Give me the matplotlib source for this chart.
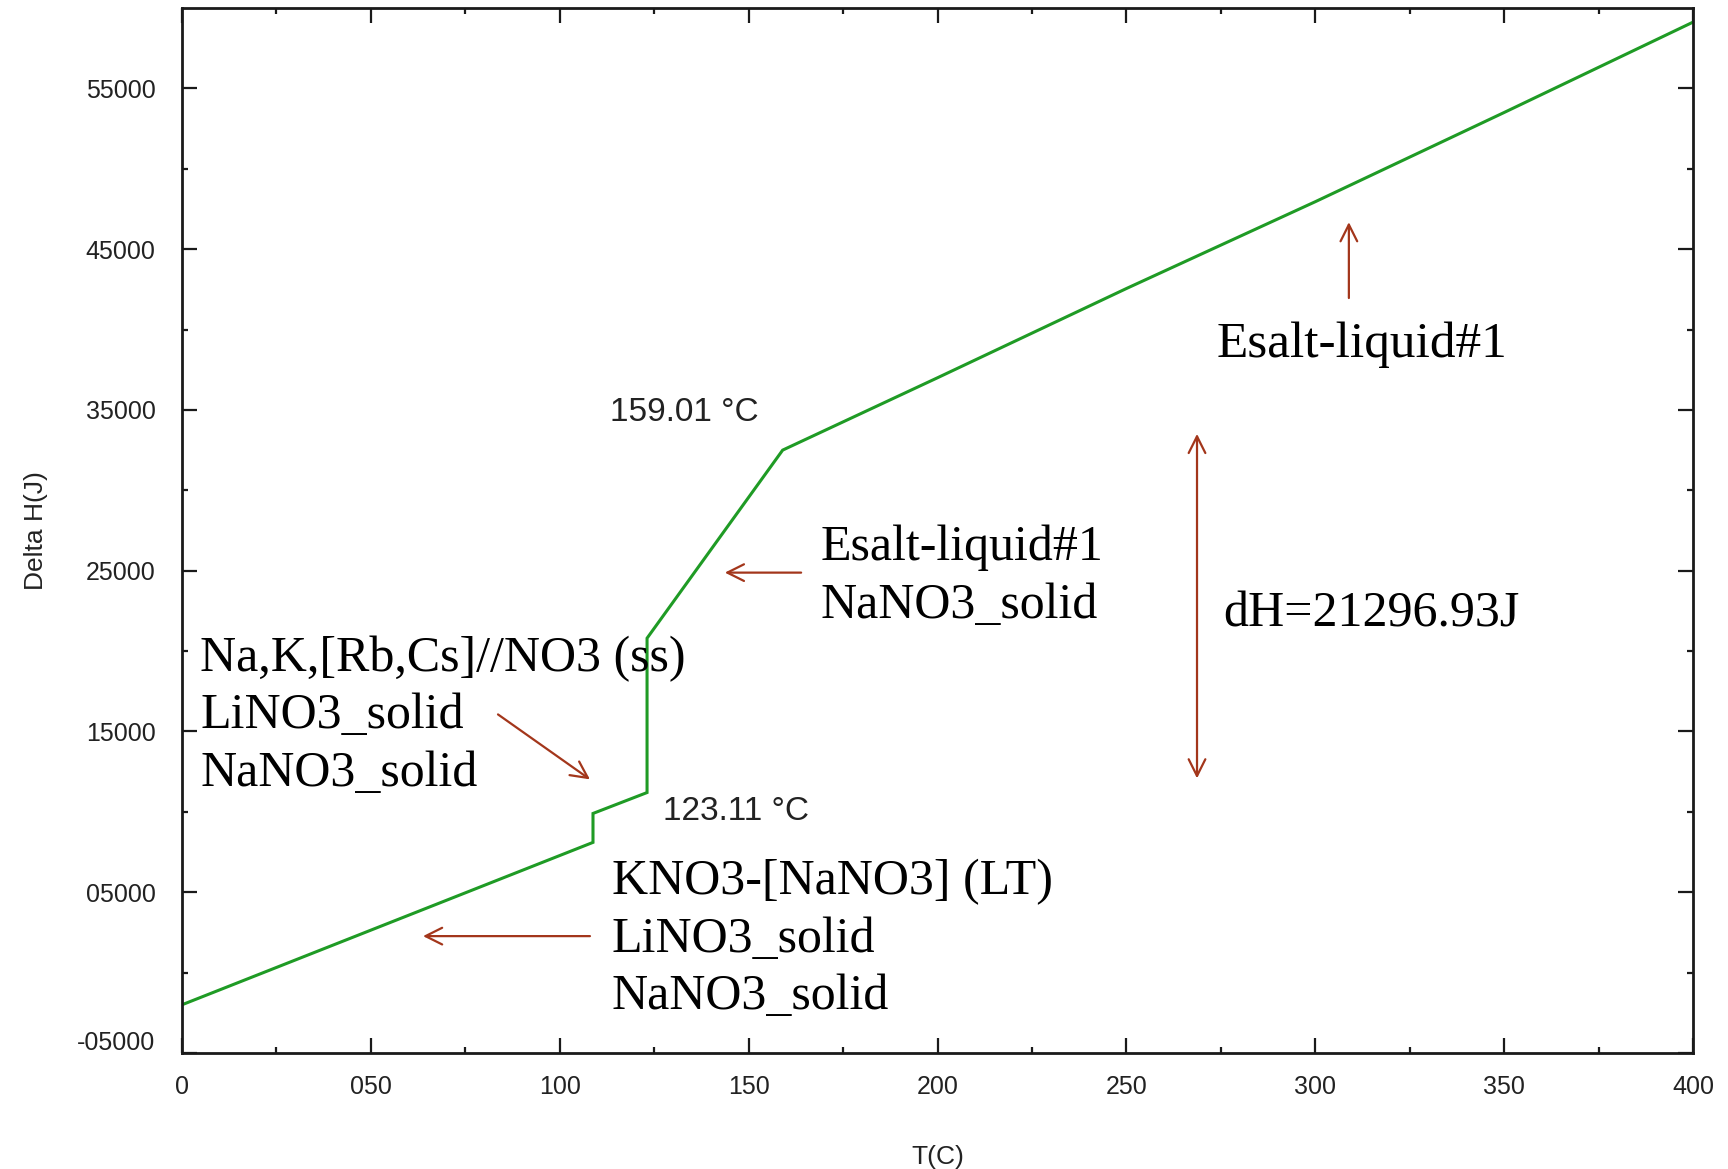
import matplotlib
matplotlib.use("Agg")
import matplotlib.pyplot as plt
from matplotlib.patches import FancyArrowPatch

# Enthalpy curve of the nitrate salt mixture, T in deg C, Delta H in J
temperature = [0.0, 108.8, 108.8, 123.11, 123.11, 159.01, 200.0, 250.0, 300.0, 350.0, 400.0]
delta_h = [-2000, 8100, 9900, 11200, 20800, 32500, 37000, 42550, 47950, 53500, 59120]

x_ticks = [0, 50, 100, 150, 200, 250, 300, 350, 400]
x_tick_labels = ["0", "050", "100", "150", "200", "250", "300", "350", "400"]
y_ticks = [-5000, 5000, 15000, 25000, 35000, 45000, 55000]
y_tick_labels = ["-05000", "05000", "15000", "25000", "35000", "45000", "55000"]

W, H, DPI = 1728, 1169, 100
fig = plt.figure(figsize=(W / DPI, H / DPI), dpi=DPI)
ax = fig.add_axes([182 / W, 1 - 1053 / H, (1693 - 182) / W, (1053 - 8) / H])

ax.plot(temperature, delta_h, color="#1f9b25", lw=2.2, solid_joinstyle="miter")

sans = "Liberation Sans"
serif = "Liberation Serif"
tick_color = "#222222"
tick_size = 18
y_pad = 19

ax.set_xlim(0, 400)
ax.set_ylim(-5000, 60000)
ax.set_xticks(x_ticks)
ax.set_xticklabels(x_tick_labels)
ax.set_xticks([25 + 50 * i for i in range(8)], minor=True)
ax.set_yticks(y_ticks)
# the lowest y label is drawn separately, a little above the bottom spine
ax.set_yticklabels([""] + y_tick_labels[1:])
ax.set_yticks([10000 * i for i in range(6)], minor=True)
ax.annotate(y_tick_labels[0], xy=(0, y_ticks[0]), xycoords=("axes fraction", "data"),
            xytext=(-y_pad, 7), textcoords="offset points", ha="right", va="center",
            fontfamily=sans, fontsize=tick_size, color=tick_color, annotation_clip=False)

for lab in ax.get_xticklabels() + ax.get_yticklabels():
    lab.set_fontfamily(sans)
    lab.set_fontsize(tick_size)
    lab.set_color(tick_color)

ax.tick_params(which="both", direction="in", top=True, right=True, color="#1a1a1a", width=1.6)
ax.tick_params(which="major", length=11)
ax.tick_params(which="minor", length=4)
ax.tick_params(axis="x", which="major", pad=16)
ax.tick_params(axis="y", which="major", pad=y_pad)
for s in ax.spines.values():
    s.set_linewidth(2.0)
    s.set_color("#1a1a1a")

ax.set_xlabel("T(C)", fontfamily=sans, fontsize=19, color=tick_color, labelpad=33)
ax.set_ylabel("Delta H(J)", fontfamily=sans, fontsize=19, color=tick_color, labelpad=27)

# Transition temperatures
ax.text(113.3, 34300, "159.01 °C", fontfamily=sans, fontsize=24, color="#222222", va="baseline")
ax.text(127.3, 9490, "123.11 °C", fontfamily=sans, fontsize=24, color="#222222", va="baseline")

# Phase labels, one text per line
line_step = 3563
def phase_label(x, y_first, lines, size=36):
    for i, line in enumerate(lines):
        ax.text(x, y_first - i * line_step, line, fontfamily=serif, fontsize=size,
                color="black", va="baseline", ha="left")

phase_label(274.0, 38270, ["Esalt-liquid#1"], size=37)
phase_label(169.0, 25640, ["Esalt-liquid#1", "NaNO3_solid"])
phase_label(275.6, 21540, ["dH=21296.93J"])
phase_label(4.8, 18760, ["Na,K,[Rb,Cs]//NO3 (ss)", "LiNO3_solid", "NaNO3_solid"])
phase_label(113.8, 4850, ["KNO3-[NaNO3] (LT)", "LiNO3_solid", "NaNO3_solid"])

arrow_color = "#a3361b"
def arrow(start, end, style="->"):
    ax.add_patch(FancyArrowPatch(start, end,
                                 arrowstyle=f"{style},head_length=12,head_width=6",
                                 mutation_scale=1, color=arrow_color, lw=1.6,
                                 shrinkA=0, shrinkB=0))

arrow((308.9, 41960), (308.9, 46680))
arrow((268.7, 12080), (268.7, 33510), "<->")
arrow((163.9, 24880), (143.7, 24880))
arrow((83.65, 16060), (108.0, 12020))
arrow((108.0, 2270), (63.8, 2270))

fig.savefig("out.png", dpi=DPI, facecolor="white")
